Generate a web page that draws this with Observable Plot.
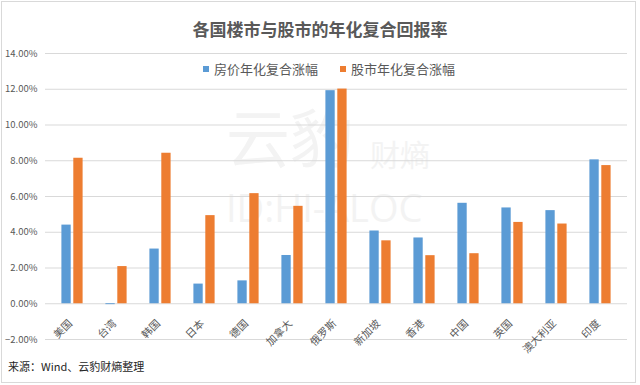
<!DOCTYPE html>
<html><head><meta charset="utf-8">
<script src="https://cdn.jsdelivr.net/npm/d3@7"></script>
<script src="https://cdn.jsdelivr.net/npm/@observablehq/plot@0.6"></script>
<style>
body{margin:0;background:#fff;font-family:"Noto Sans CJK SC","Noto Sans",sans-serif;}
#wrap{position:relative;width:640px;height:385px;overflow:hidden;background:#fff;}
#frame{position:absolute;left:1px;top:1px;width:635px;height:382px;box-sizing:border-box;border:1px solid #d9d9d9;}
.wm{position:absolute;color:#f3f3f3;white-space:nowrap;line-height:1;}
#chart{position:absolute;left:0;top:0;}
#title{position:absolute;left:0;top:17px;width:640px;text-align:center;font-size:17px;font-weight:bold;color:#595959;line-height:24px;}
#legend{position:absolute;left:203px;top:60px;display:flex;align-items:center;font-size:13px;color:#595959;line-height:18px;}
#legend .item{display:flex;align-items:center;margin-right:22px;}
#legend .sw{width:6px;height:6px;margin-right:5px;}
#caption{position:absolute;left:8px;top:358px;font-size:11px;color:#262626;line-height:16px;}
</style></head><body>
<div id="wrap">
  <div id="frame"></div>
  <div class="wm" style="left:226px;top:102px;font-size:64px;">云豹</div>
  <div class="wm" style="left:370px;top:138px;font-size:30px;">财熵</div>
  <div class="wm" style="left:226px;top:188px;font-size:38px;font-family:'Open Sans',sans-serif;">ID:HI-ALOC</div>
  <div id="chart"></div>
  <div id="title"></div>
  <div id="legend"></div>
  <div id="caption"></div>
</div>
<script>
const titleText = "各国楼市与股市的年化复合回报率";
const captionText = "来源：Wind、云豹财熵整理";
const countries = ["美国","台湾","韩国","日本","德国","加拿大","俄罗斯","新加坡","香港","中国","英国","澳大利亚","印度"];
const housing = [0.0440, -0.0005, 0.0306, 0.0110, 0.0128, 0.0270, 0.1192, 0.0407, 0.0368, 0.0562, 0.0536, 0.0521, 0.0805];
const stocks  = [0.0814, 0.0208, 0.0842, 0.0493, 0.0616, 0.0545, 0.1201, 0.0352, 0.0269, 0.0280, 0.0455, 0.0446, 0.0773];
const seriesNames = ["房价年化复合涨幅","股市年化复合涨幅"];
const seriesColors = ["#5B9BD5","#ED7D31"];
const yTicks = [-0.02, 0, 0.02, 0.04, 0.06, 0.08, 0.10, 0.12, 0.14];

const rows = countries.map((c, i) => ({country: c, house: housing[i], stock: stocks[i]}));

document.getElementById("title").textContent = titleText;
document.getElementById("caption").textContent = captionText;
const legend = document.getElementById("legend");
seriesNames.forEach((name, i) => {
  const item = document.createElement("div");
  item.className = "item";
  const sw = document.createElement("span");
  sw.className = "sw";
  sw.style.background = seriesColors[i];
  const t = document.createElement("span");
  t.textContent = name;
  item.appendChild(sw); item.appendChild(t);
  legend.appendChild(item);
});

const chart = Plot.plot({
  width: 640,
  height: 385,
  marginTop: 53,
  marginBottom: 46,
  marginLeft: 45,
  marginRight: 13,
  style: {background: "transparent", fontFamily: "'Noto Sans CJK SC','Noto Sans',sans-serif", fontSize: "9.5px", color: "#595959", overflow: "visible"},
  x: {domain: countries, padding: 0, axis: null},
  y: {domain: [-0.02, 0.14], ticks: yTicks, tickFormat: d3.format(".2%"), tickSize: 0, tickPadding: 8, label: null},
  marks: [
    Plot.ruleY(yTicks, {stroke: "#d9d9d9", strokeWidth: 1}),
    Plot.barY(rows, {x: "country", y: "house", fill: seriesColors[0], insetLeft: 11.4, insetRight: 23.3}),
    Plot.barY(rows, {x: "country", y: "stock", fill: seriesColors[1], insetLeft: 23.3, insetRight: 11.4}),
    Plot.text(rows, {x: "country", y: () => 0, text: "country", rotate: -45, textAnchor: "end", dx: -2, dy: 18, fontSize: 10.5, fill: "#595959"})
  ]
});
document.getElementById("chart").appendChild(chart);
</script>
</body></html>
